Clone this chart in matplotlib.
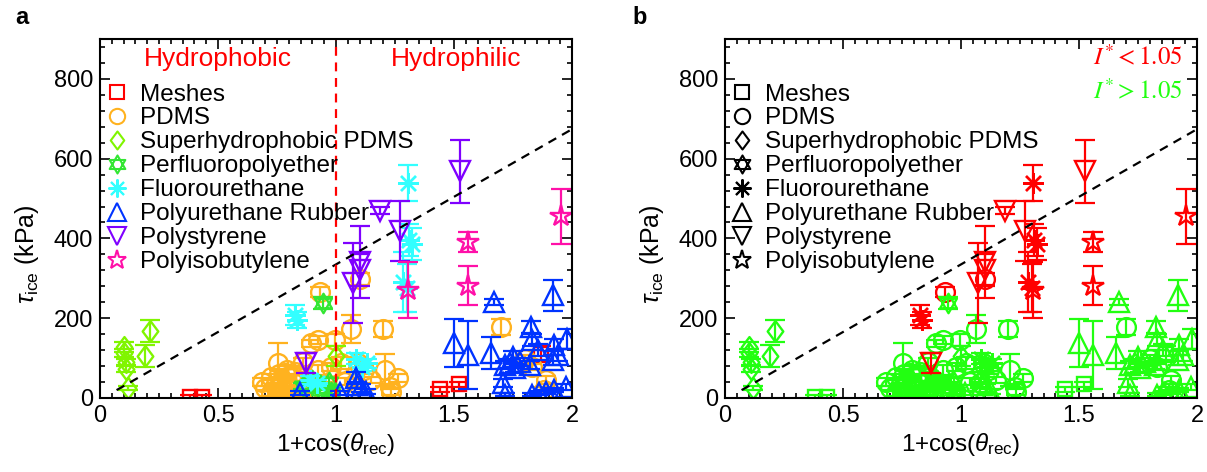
import numpy as np
import matplotlib
matplotlib.use("Agg")
import matplotlib.pyplot as plt
from matplotlib.path import Path
from matplotlib.lines import Line2D
from matplotlib.ticker import MultipleLocator

plt.rcParams['font.family'] = ['Liberation Sans', 'DejaVu Sans']
plt.rcParams['mathtext.fontset'] = 'custom'
plt.rcParams['mathtext.rm'] = 'Liberation Sans'
plt.rcParams['mathtext.it'] = 'Liberation Sans:italic'

# ---- data ----
meshes_x = [0.38, 0.43, 0.86, 1.44, 1.52, 1.87]
meshes_y = [2, 3, 3, 22, 34, 110]
meshes_e = [5, 5, 5, 6, 6, 20]
meshes_low = [0, 0, 0, 0, 0, 0]

pdms_x = [0.93, 1.10, 1.065, 1.20, 0.995, 0.925, 0.895, 0.755, 0.684, 0.726,
          0.783, 0.825, 0.867, 0.769, 0.839, 0.726, 0.896, 0.952, 1.037, 1.079,
          1.02, 0.98, 0.924, 1.093, 1.12, 1.15, 1.206, 1.262, 1.234, 1.23,
          0.80, 0.75, 0.85, 0.79, 0.86, 1.70, 1.89, 1.88, 1.80, 1.83,
          0.74, 0.77, 0.80, 0.78, 0.81, 0.76, 0.83, 0.70, 0.88, 0.79]
pdms_y = [266, 299, 174, 172, 145, 145, 137, 87, 41, 53,
          62, 66, 53, 20, 16, 12, 37, 33, 41, 37,
          87, 78, 70, 87, 70, 45, 70, 49, 16, 28,
          5, 8, 2, 35, 90, 178, 45, 20, 99, 78,
          30, 45, 25, 10, 50, 60, 35, 25, 20, 70]
pdms_e = [12, 15, 35, 20, 15, 10, 8, 50, 10, 8,
          10, 8, 10, 8, 8, 6, 10, 8, 8, 10,
          15, 10, 12, 12, 10, 8, 40, 10, 8, 6,
          5, 5, 4, 8, 10, 20, 10, 8, 10, 8,
          6, 8, 5, 4, 8, 10, 6, 5, 5, 10]
pdms_low = [1, 1] + [0] * 48

shpdms_x = [0.10, 0.10, 0.11, 0.11, 0.12, 0.19, 0.21, 1.00]
shpdms_y = [128, 112, 90, 72, 25, 105, 168, 105]
shpdms_e = [12, 10, 8, 8, 6, 28, 28, 25]
shpdms_low = [0] * 8

pfpe_x = [0.945, 0.90, 0.93, 0.97, 0.98, 0.86]
pfpe_y = [237, 45, 20, 40, 15, 30]
pfpe_e = [15, 10, 8, 10, 6, 8]
pfpe_low = [0] * 6

fu_x = [0.825, 0.835, 1.305, 1.31, 1.32, 1.285, 1.30, 1.085, 1.13, 1.11, 0.89, 0.92]
fu_y = [208, 195, 538, 395, 385, 290, 275, 99, 87, 78, 45, 37]
fu_e = [25, 20, 45, 40, 40, 75, 60, 15, 12, 10, 10, 8]
fu_low = [1, 1, 1, 1, 1, 1, 1, 0, 0, 0, 0, 0]

pu_x = [0.846, 1.015, 1.086, 1.09, 1.128, 1.107, 1.50, 1.56, 1.657, 1.67,
        1.918, 1.826, 1.83, 1.855, 1.925, 1.98, 1.94, 1.918, 1.75, 1.735,
        1.714, 1.82, 1.707, 1.714, 1.86, 1.89, 1.925, 1.975, 1.83, 1.78, 1.76]
pu_y = [12, 12, 49, 33, 16, 24, 137, 108, 112, 241,
        257, 178, 145, 120, 132, 149, 107, 95, 103, 87,
        82, 82, 37, 8, 12, 16, 20, 28, 8, 90, 75]
pu_e = [5, 5, 15, 8, 6, 10, 60, 85, 40, 8,
        40, 15, 15, 15, 15, 25, 15, 12, 15, 12,
        10, 10, 10, 4, 5, 5, 5, 8, 4, 10, 10]
pu_low = [0] * 31

ps_x = [0.874, 1.072, 1.10, 1.10, 1.185, 1.27, 1.523]
ps_y = [87, 288, 340, 322, 470, 418, 568]
ps_e = [25, 100, 90, 40, 10, 75, 80]
ps_low = [1] * 7

pib_x = [1.305, 1.558, 1.558, 1.953]
pib_y = [270, 391, 282, 455]
pib_e = [70, 25, 50, 70]
pib_low = [1] * 4

labels = ['Meshes', 'PDMS', 'Superhydrophobic PDMS', 'Perfluoropolyether',
          'Fluorourethane', 'Polyurethane Rubber', 'Polystyrene', 'Polyisobutylene']
colors = ['#ff0000', '#ffb21f', '#80f500', '#33e633', '#33ffff',
          '#0033ff', '#7f00ff', '#ff10a8']

# ---- marker shapes ----
up = [(np.cos(a), np.sin(a)) for a in np.deg2rad([90, 210, 330])]
dn = [(np.cos(a), np.sin(a)) for a in np.deg2rad([270, 30, 150])]
hexagram = Path(up + [up[0]] + dn + [dn[0]],
                [Path.MOVETO, Path.LINETO, Path.LINETO, Path.CLOSEPOLY] * 2)
diamond = Path([(0, 1), (0.75, 0), (0, -1), (-0.75, 0), (0, 1)],
               [Path.MOVETO, Path.LINETO, Path.LINETO, Path.LINETO, Path.CLOSEPOLY])
markers = ['s', 'o', diamond, hexagram, (8, 2, 0), '^', 'v', '*']
msizes = [10.5, 13.5, 15, 14, 15, 15, 15, 16]
lsizes = [9.5, 11, 13, 13, 13, 13, 13, 14]

groups = [(meshes_x, meshes_y, meshes_e, meshes_low),
          (pdms_x, pdms_y, pdms_e, pdms_low),
          (shpdms_x, shpdms_y, shpdms_e, shpdms_low),
          (pfpe_x, pfpe_y, pfpe_e, pfpe_low),
          (fu_x, fu_y, fu_e, fu_low),
          (pu_x, pu_y, pu_e, pu_low),
          (ps_x, ps_y, ps_e, ps_low),
          (pib_x, pib_y, pib_e, pib_low)]

red_b = '#ff0000'
green_b = '#22ff11'

fig = plt.figure(figsize=(12.07, 4.72), dpi=100)
axa = fig.add_axes([0.0829, 0.1568, 0.3911, 0.7606])
axb = fig.add_axes([0.6007, 0.1568, 0.3911, 0.7606])


def draw(ax, x, y, e, m, ms, c):
    if len(x) == 0:
        return
    ax.errorbar(x, y, yerr=e, fmt='none', ecolor=c, elinewidth=1.6,
                capsize=7, capthick=1.6)
    ax.plot(x, y, ls='none', marker=m, ms=ms, mfc='none', mec=c, mew=1.7)


for i, (x, y, e, low) in enumerate(groups):
    draw(axa, x, y, e, markers[i], msizes[i], colors[i])
    x = np.array(x); y = np.array(y); e = np.array(e); low = np.array(low, bool)
    draw(axb, x[~low], y[~low], e[~low], markers[i], msizes[i], green_b)
    draw(axb, x[low], y[low], e[low], markers[i], msizes[i], red_b)

fit_x = np.array([0.07, 2.0])
for ax in (axa, axb):
    ax.plot(fit_x, 339 * fit_x - 4, color='k', ls=(0, (4, 3)), lw=1.6)
    ax.set_xlim(0, 2)
    ax.set_ylim(0, 900)
    ax.set_xticks([0, 0.5, 1, 1.5, 2])
    ax.set_xticklabels(['0', '0.5', '1', '1.5', '2'])
    ax.set_yticks([0, 200, 400, 600, 800])
    ax.xaxis.set_minor_locator(MultipleLocator(0.05))
    ax.yaxis.set_minor_locator(MultipleLocator(40))
    ax.tick_params(which='both', direction='in', top=True, right=True,
                   labelsize=17, width=1.2)
    ax.tick_params(which='major', length=7, pad=5)
    ax.tick_params(which='minor', length=3.5)
    for s in ax.spines.values():
        s.set_linewidth(1.5)
    ax.set_xlabel(r'1+cos($\theta_{\rm rec}$)', fontsize=17.5, labelpad=3)
    ax.set_ylabel(r'$\tau_{\rm ice}$ (kPa)', fontsize=18)
    ax.yaxis.set_label_coords(-0.125, 0.40)

# panel a extras
axa.axvline(1, color='#ff0000', ls=(0, (4, 3)), lw=1.6)
axa.text(0.5, 851, 'Hydrophobic', color='#ff0000', fontsize=19,
         ha='center', va='center')
axa.text(1.51, 851, 'Hydrophilic', color='#ff0000', fontsize=19,
         ha='center', va='center')

ha = [Line2D([], [], ls='none', marker=markers[i], ms=lsizes[i], mfc='none',
             mec=colors[i], mew=1.5) for i in range(8)]
hb = [Line2D([], [], ls='none', marker=markers[i], ms=lsizes[i], mfc='none',
             mec='k', mew=1.5) for i in range(8)]
for ax, h in ((axa, ha), (axb, hb)):
    ax.legend(h, labels, loc='upper left', bbox_to_anchor=(0.017, 0.876),
              frameon=False, fontsize=17.5, borderpad=0, borderaxespad=0,
              labelspacing=0.08, handlelength=0.75, handletextpad=0.55)

axb.text(0.97, 0.947, r'$I^{*} < 1.05$', transform=axb.transAxes,
         color=red_b, fontsize=18, ha='right', va='center', math_fontfamily='stix')
axb.text(0.97, 0.852, r'$I^{*} > 1.05$', transform=axb.transAxes,
         color=green_b, fontsize=18, ha='right', va='center', math_fontfamily='stix')

fig.text(15 / 1207, 1 - 18 / 472, 'a', fontsize=17, fontweight='bold',
         ha='left', va='center')
fig.text(632 / 1207, 1 - 18 / 472, 'b', fontsize=17, fontweight='bold',
         ha='left', va='center')

fig.savefig('out.png', dpi=100)
